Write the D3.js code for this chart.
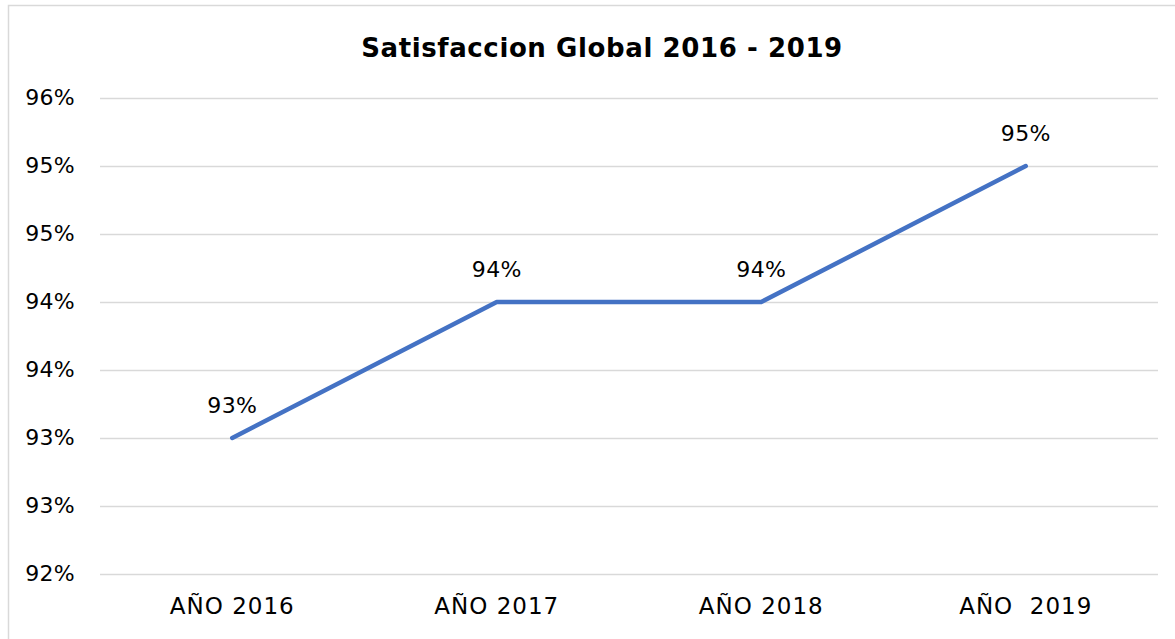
<!DOCTYPE html>
<html>
<head>
<meta charset="utf-8">
<script src="https://cdn.jsdelivr.net/npm/d3@7"></script>
<style>
  html, body { margin: 0; padding: 0; background: #fff; }
  svg { display: block; }
  text { font-family: "DejaVu Sans", sans-serif; fill: #000; }
</style>
</head>
<body>
<svg id="chart" width="1175" height="639"></svg>
<script>
const title = "Satisfaccion Global 2016 - 2019";
const categories = ["AÑO 2016", "AÑO 2017", "AÑO 2018", "AÑO  2019"];
const values = [0.93, 0.94, 0.94, 0.95];
const valueLabels = ["93%", "94%", "94%", "95%"];
const tickValues = [0.92, 0.925, 0.93, 0.935, 0.94, 0.945, 0.95, 0.955];
// Labels as displayed in the reference (rounded tick values)
const tickLabels = ["92%", "93%", "93%", "94%", "94%", "95%", "95%", "96%"];

const W = 1175, H = 639;
const margin = { left: 100, right: 17, top: 98, bottom: 65 };
const svg = d3.select("#chart");

// outer chart border
svg.append("rect")
  .attr("x", 8.5).attr("y", 5.5)
  .attr("width", W + 20).attr("height", H + 20)
  .attr("fill", "#fff").attr("stroke", "#d9d9d9").attr("stroke-width", 1.5);

const x = d3.scaleBand().domain(categories)
  .range([margin.left, W - margin.right]).padding(0);
const y = d3.scaleLinear().domain([0.92, 0.955])
  .range([H - margin.bottom, margin.top]);

// gridlines
svg.append("g")
  .selectAll("line").data(tickValues).join("line")
  .attr("x1", margin.left).attr("x2", W - margin.right)
  .attr("y1", d => Math.round(y(d)) + 0.5).attr("y2", d => Math.round(y(d)) + 0.5)
  .attr("stroke", "#d9d9d9").attr("stroke-width", 1.5);

// y axis labels
const yAxis = d3.axisLeft(y).tickValues(tickValues)
  .tickFormat((d, i) => tickLabels[i]).tickSize(0).tickPadding(0);
const gy = svg.append("g").attr("transform", `translate(${margin.left - 25},-1)`).call(yAxis);
gy.select(".domain").remove();
gy.selectAll("text").attr("font-size", 22).attr("font-family", "DejaVu Sans")
  .attr("fill", "#000").attr("letter-spacing", 0.3);

// x axis labels
const xAxis = d3.axisBottom(x).tickSize(0).tickPadding(0);
const gx = svg.append("g").attr("transform", `translate(0,${H - margin.bottom + 24})`).call(xAxis);
gx.select(".domain").remove();
gx.selectAll("text").attr("font-size", 23).attr("font-family", "DejaVu Sans")
  .attr("fill", "#000").attr("letter-spacing", 1).style("white-space", "pre").attr("dy", "0.71em");

// line
const line = d3.line()
  .x((d, i) => x(categories[i]) + x.bandwidth() / 2)
  .y(d => y(d));
svg.append("path").datum(values)
  .attr("d", line)
  .attr("fill", "none").attr("stroke", "#4472c4")
  .attr("stroke-width", 4.5).attr("stroke-linecap", "round").attr("stroke-linejoin", "round");

// data labels
svg.append("g").selectAll("text").data(values).join("text")
  .attr("x", (d, i) => x(categories[i]) + x.bandwidth() / 2)
  .attr("y", d => y(d) - 25)
  .attr("text-anchor", "middle")
  .attr("font-size", 22).attr("letter-spacing", 0.3)
  .text((d, i) => valueLabels[i]);

// title
svg.append("text")
  .attr("x", 602).attr("y", 57)
  .attr("text-anchor", "middle")
  .attr("font-size", 26).attr("font-weight", "bold").attr("letter-spacing", 0.6)
  .text(title);
</script>
</body>
</html>
